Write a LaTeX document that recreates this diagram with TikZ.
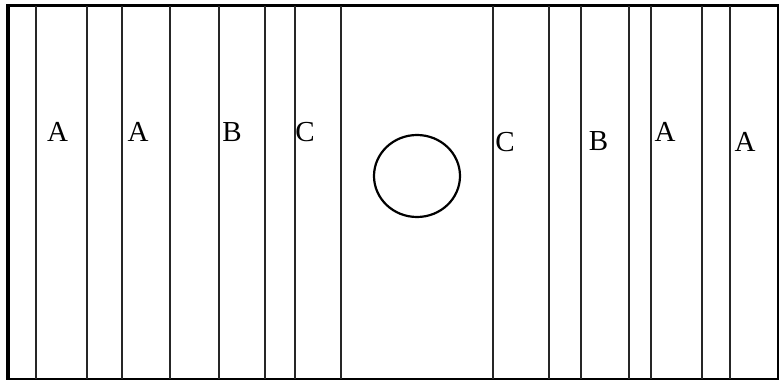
\documentclass[tikz,border=0pt]{standalone}
\usepackage{fontspec}
\setmainfont{Liberation Serif}
\usetikzlibrary{positioning}

\begin{document}
\begin{tikzpicture}[
    x=1pt, y=-1pt,
    strip/.style={draw=black!85, line width=1.6pt},
    zone/.style={font=\fontsize{29}{29}\selectfont, inner sep=0pt}
]
\useasboundingbox (0,0) rectangle (779,380);

% Frame
\draw [line width=2.8pt] (6,5.5) -- (779,5.5);
\draw [line width=1.5pt] (6,379) -- (779,379);
\draw [line width=4pt] (8,4) -- (8,380);
\draw [line width=1.5pt] (778,5) -- (778,380);

% Strips
\foreach \x in {36,87,122,170,219,265,295,341,493,549,581,629,651,702,730}
    \draw [strip] (\x,6) -- (\x,379);

% Zones
\node [zone] (a1) at (57.5,132) {A};
\node [zone] (a2) at (138,132) {A};
\node [zone] (b1) at (232,132) {B};
\node [zone] (c1) at (305,132) {C};
\node [zone] (c2) at (505,142) {C};
\node [zone] (b2) at (598.5,141) {B};
\node [zone] (a3) at (665,132) {A};
\node [zone] (a4) at (745,142) {A};

% Hole
\draw [line width=2.2pt] (417,176) ellipse [x radius=43, y radius=41];

\end{tikzpicture}
\end{document}
